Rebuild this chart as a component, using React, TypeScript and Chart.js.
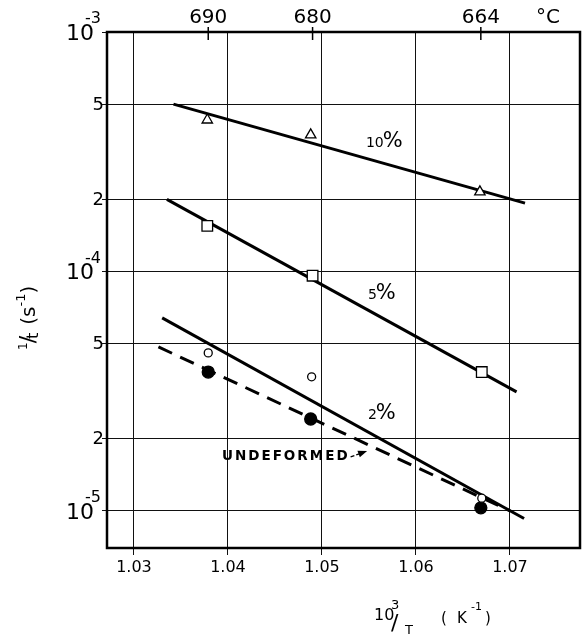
import React, { useEffect, useRef } from "react";
import { Chart, registerables } from "chart.js";

Chart.register(...registerables);

// ---- axes ----
const xMin = 1.02713;
const xMax = 1.07745;
const yMin = 7.0e-6;
const yMax = 1.0e-3;
const xTicks = [1.03, 1.04, 1.05, 1.06, 1.07];
const yTicks = [1e-5, 2e-5, 5e-5, 1e-4, 2e-4, 5e-4, 1e-3];
const topTickX = [1.0379, 1.049, 1.0669];
const topTickLabels = ["690", "680", "664"];

// ---- 10 % deformation (triangles) ----
const x10 = [1.0378, 1.0488, 1.0668];
const y10 = [4.29e-4, 3.72e-4, 2.15e-4];
const fit10X = [1.0342, 1.0716];
const fit10Y = [5.0e-4, 1.93e-4];

// ---- 5 % deformation (squares) ----
const x5 = [1.0378, 1.049, 1.067];
const y5 = [1.55e-4, 9.6e-5, 3.8e-5];
const fit5X = [1.0335, 1.0707];
const fit5Y = [2.0e-4, 3.14e-5];

// ---- 2 % deformation (open circles) ----
const x2 = [1.0379, 1.0489, 1.067];
const y2 = [4.57e-5, 3.63e-5, 1.13e-5];
const fit2X = [1.033, 1.0715];
const fit2Y = [6.4e-5, 9.3e-6];

// ---- undeformed (filled circles) ----
const xU = [1.0379, 1.0488, 1.0669];
const yU = [3.8e-5, 2.42e-5, 1.03e-5];
const fitUX = [1.0326, 1.07];
const fitUY = [4.84e-5, 1.0e-5];

// ---- annotation anchors (data coords) ----
const pctLabels = ["10", "5", "2"];
const pctX = [1.05468, 1.05489, 1.05489];
const pctY = [3.3e-4, 7.7e-5, 2.43e-5];
const undefLabel = "UNDEFORMED";
const undefX = 1.03936;
const undefY = 1.68e-5;
const arrowTipX = 1.0548;
const arrowTipY = 1.78e-5;

const pts = (xs: number[], ys: number[]) => xs.map((x, i) => ({ x, y: ys[i] }));

const FONT = '"DejaVu Sans", sans-serif';

const decorPlugin = {
  id: "decor",
  afterDraw(chart: any) {
    const ctx: CanvasRenderingContext2D = chart.ctx;
    const xs = chart.scales.x;
    const ys = chart.scales.y;
    const a = chart.chartArea;
    ctx.save();
    ctx.strokeStyle = "#000";
    ctx.fillStyle = "#000";

    // frame
    ctx.lineWidth = 2.5;
    ctx.strokeRect(a.left, a.top, a.right - a.left, a.bottom - a.top);

    // top temperature axis
    ctx.lineWidth = 1.5;
    ctx.font = `20px ${FONT}`;
    ctx.textAlign = "center";
    ctx.textBaseline = "middle";
    topTickX.forEach((v, i) => {
      const px = xs.getPixelForValue(v);
      ctx.beginPath();
      ctx.moveTo(px, a.top - 5);
      ctx.lineTo(px, a.top + 8);
      ctx.stroke();
      ctx.fillText(topTickLabels[i], px, 18);
    });
    ctx.fillText("°C", 548, 18);

    // y tick labels
    yTicks.forEach((v) => {
      const py = ys.getPixelForValue(v);
      const exp = Math.floor(Math.log10(v) + 1e-9);
      const mant = Math.round(v / Math.pow(10, exp));
      if (mant === 1) {
        ctx.font = `22px ${FONT}`;
        ctx.textAlign = "right";
        ctx.textBaseline = "middle";
        ctx.fillText("10", 94, py + 2);
        ctx.font = `16px ${FONT}`;
        ctx.textAlign = "left";
        ctx.fillText("-" + String(-exp), 85, py - 13);
      } else {
        ctx.font = `18px ${FONT}`;
        ctx.textAlign = "right";
        ctx.textBaseline = "middle";
        ctx.fillText(String(mant), 104, py + 1);
      }
    });

    // y title: 1/t (s^-1), rotated
    ctx.save();
    ctx.translate(28, 305);
    ctx.rotate(-Math.PI / 2);
    ctx.textAlign = "left";
    ctx.textBaseline = "alphabetic";
    let u = -45;
    const seg = (t: string, size: number, v: number) => {
      ctx.font = `${size}px ${FONT}`;
      ctx.fillText(t, u, v);
      u += ctx.measureText(t).width;
    };
    seg("1", 12, -1);
    u -= 1;
    seg("/", 22, 7);
    u -= 3;
    seg("t", 16, 10);
    u += 8;
    seg("(s", 20, 7);
    seg("-1", 13, -3);
    seg(")", 20, 7);
    ctx.restore();

    // x title: 10^3/T (K^-1)
    ctx.textAlign = "left";
    ctx.textBaseline = "alphabetic";
    ctx.font = `16px ${FONT}`;
    ctx.fillText("10", 374, 620);
    ctx.font = `13px ${FONT}`;
    ctx.fillText("3", 391, 609);
    ctx.font = `22px ${FONT}`;
    ctx.fillText("/", 391, 630);
    ctx.font = `13px ${FONT}`;
    ctx.fillText("T", 405, 634);
    ctx.font = `15px ${FONT}`;
    ctx.fillText("(", 441, 623);
    ctx.fillText("K", 457, 623);
    ctx.font = `11px ${FONT}`;
    ctx.fillText("-1", 471, 610);
    ctx.font = `15px ${FONT}`;
    ctx.fillText(")", 485, 623);

    // percent labels
    pctLabels.forEach((t, i) => {
      const px = xs.getPixelForValue(pctX[i]);
      const py = ys.getPixelForValue(pctY[i]);
      ctx.textAlign = "left";
      ctx.textBaseline = "alphabetic";
      ctx.font = `14px ${FONT}`;
      ctx.fillText(t, px, py);
      const w = ctx.measureText(t).width;
      ctx.font = `21px ${FONT}`;
      ctx.fillText("%", px + w - 1, py);
    });

    // UNDEFORMED label + arrow
    const ux = xs.getPixelForValue(undefX);
    const uy = ys.getPixelForValue(undefY);
    ctx.font = `bold 13.5px ${FONT}`;
    (ctx as any).letterSpacing = "2px";
    ctx.textAlign = "left";
    ctx.textBaseline = "middle";
    ctx.fillText(undefLabel, ux, uy);
    const tw = ctx.measureText(undefLabel).width;
    (ctx as any).letterSpacing = "0px";
    const tx = xs.getPixelForValue(arrowTipX);
    const ty = ys.getPixelForValue(arrowTipY);
    const sx = ux + tw + 1;
    const sy = uy;
    const ang = Math.atan2(ty - sy, tx - sx);
    ctx.lineWidth = 1.3;
    ctx.setLineDash([4, 2]);
    ctx.beginPath();
    ctx.moveTo(sx, sy);
    ctx.lineTo(tx - 7 * Math.cos(ang), ty - 7 * Math.sin(ang));
    ctx.stroke();
    ctx.setLineDash([]);
    ctx.beginPath();
    ctx.moveTo(tx, ty);
    ctx.lineTo(tx - 9 * Math.cos(ang) + 3.5 * Math.sin(ang), ty - 9 * Math.sin(ang) - 3.5 * Math.cos(ang));
    ctx.lineTo(tx - 9 * Math.cos(ang) - 3.5 * Math.sin(ang), ty - 9 * Math.sin(ang) + 3.5 * Math.cos(ang));
    ctx.closePath();
    ctx.fill();

    ctx.restore();
  },
};

export default function App() {
  const ref = useRef<HTMLCanvasElement>(null);
  useEffect(() => {
    const lineDs = (xs: number[], ys: number[], dash: number[] = []) => ({
      data: pts(xs, ys),
      showLine: true,
      borderColor: "#000",
      borderWidth: 3,
      borderDash: dash,
      pointRadius: 0,
      fill: false,
      order: 5,
    });
    const markDs = (xs: number[], ys: number[], style: string, r: number, bg: string) => ({
      data: pts(xs, ys),
      showLine: false,
      pointStyle: style,
      pointRadius: r,
      pointBackgroundColor: bg,
      pointBorderColor: "#000",
      pointBorderWidth: 1.3,
      order: 1,
    });
    const chart = new Chart(ref.current as HTMLCanvasElement, {
      type: "scatter",
      data: {
        datasets: [
          lineDs(fit10X, fit10Y),
          lineDs(fit5X, fit5Y),
          lineDs(fit2X, fit2Y),
          lineDs(fitUX, fitUY, [15, 9]),
          markDs(x10, y10, "triangle", 6, "#fff"),
          markDs(x5, y5, "rect", 7.5, "#fff"),
          markDs(x2, y2, "circle", 4, "#fff"),
          markDs(xU, yU, "circle", 6, "#000"),
        ] as any,
      },
      options: {
        responsive: false,
        animation: false,
        events: [],
        layout: { autoPadding: false, padding: { left: 0, right: 3, top: 32, bottom: 0 } },
        plugins: { legend: { display: false }, tooltip: { enabled: false } },
        scales: {
          x: {
            type: "linear",
            position: "bottom",
            min: xMin,
            max: xMax,
            afterBuildTicks: (s: any) => {
              s.ticks = xTicks.map((v) => ({ value: v }));
            },
            afterFit: (s: any) => {
              s.height = 88;
              s.paddingLeft = 0;
              s.paddingRight = 0;
            },
            ticks: {
              color: "#000",
              font: { family: "DejaVu Sans", size: 16 },
              padding: 3,
              maxRotation: 0,
              autoSkip: false,
              callback: (v: any) => Number(v).toFixed(2),
            },
            grid: { color: "#111", lineWidth: 1, tickLength: 7, drawTicks: true },
            border: { display: false },
          },
          y: {
            type: "logarithmic",
            position: "left",
            min: yMin,
            max: yMax,
            afterBuildTicks: (s: any) => {
              s.ticks = yTicks.map((v) => ({ value: v }));
            },
            afterFit: (s: any) => {
              s.width = 107;
              s.paddingTop = 0;
              s.paddingBottom = 0;
            },
            ticks: { display: false },
            grid: { color: "#111", lineWidth: 1, tickLength: 5, drawTicks: true },
            border: { display: false },
          },
        },
      } as any,
      plugins: [decorPlugin],
    });
    return () => chart.destroy();
  }, []);
  return (
    <div style={{ position: "absolute", left: 0, top: 0, width: 583, height: 636, background: "#fff" }}>
      <canvas ref={ref} width={583} height={636} style={{ display: "block", width: 583, height: 636 }} />
    </div>
  );
}
